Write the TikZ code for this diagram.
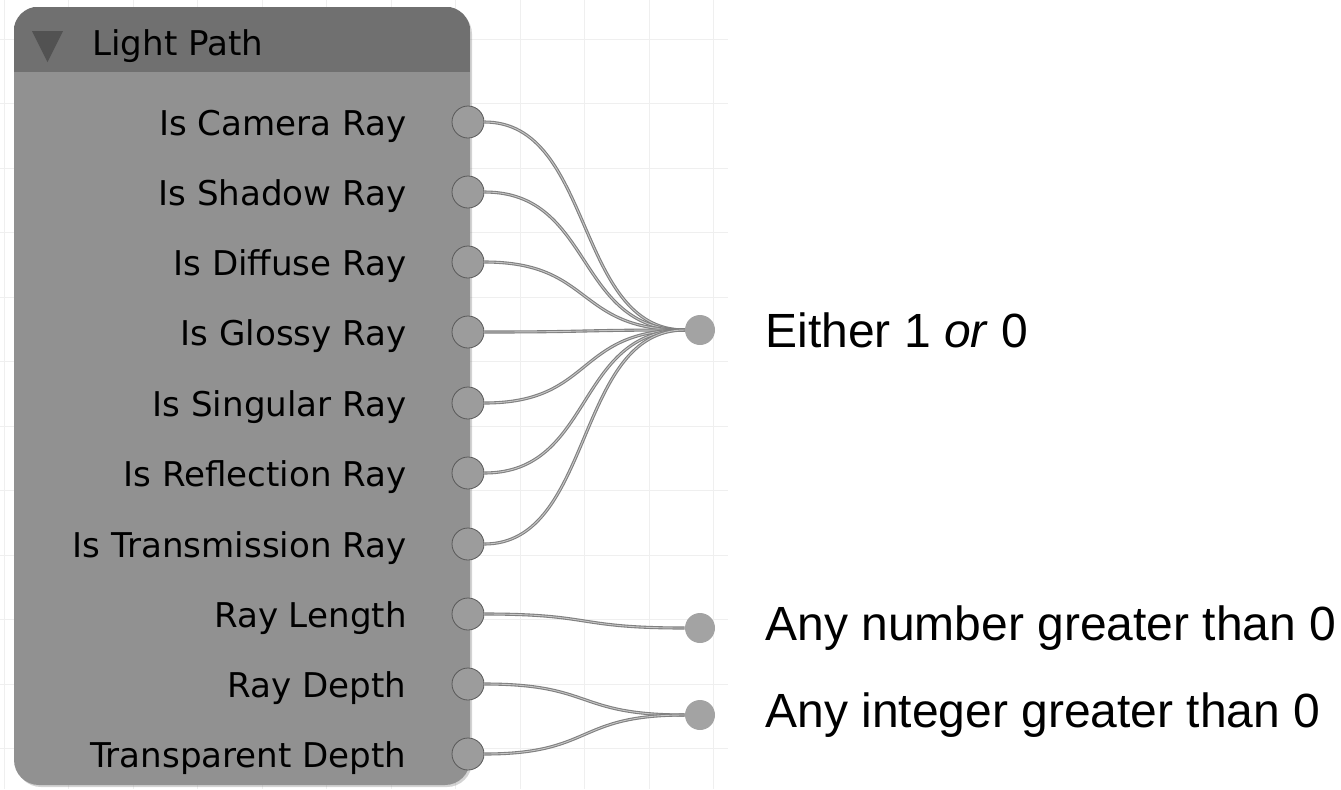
\documentclass[tikz,border=0pt]{standalone}
\usepackage{fontspec}
\setmainfont{Liberation Sans}
\newfontfamily\blenderfont{DejaVu Sans}
\usetikzlibrary{shadows}
\definecolor{headgray}{HTML}{707070}
\definecolor{bodygray}{HTML}{919191}
\definecolor{socketgray}{HTML}{9C9C9C}
\definecolor{dotgray}{HTML}{A3A3A3}
\definecolor{gridgray}{HTML}{EFEFEF}
\tikzstyle{gridline}=[draw=gridgray,line width=0.5pt]
\tikzstyle{nodebox}=[rectangle,rounded corners=12.5pt,fill=bodygray,minimum width=228pt,minimum height=389pt,inner sep=0pt,drop shadow={shadow xshift=1pt,shadow yshift=-1pt,opacity=0.35}]
\tikzstyle{socket}=[circle,fill=socketgray,draw=black!65,line width=0.4pt,minimum size=16pt,inner sep=0pt]
\tikzstyle{target}=[circle,fill=dotgray,minimum size=15pt,inner sep=0pt]
\tikzstyle{noodle}=[draw=black!50,line width=0.55pt,double=black!22,double distance=0.45pt]
\tikzstyle{sockettext}=[anchor=base east,inner sep=0pt,font=\blenderfont\fontsize{17.05}{20}\selectfont]
\tikzstyle{outtext}=[anchor=west,inner sep=0pt,font=\fontsize{24}{28}\selectfont]

\begin{document}
\begin{tikzpicture}[x=0.5pt,y=-0.5pt]
    \useasboundingbox (0,0) rectangle (1341,789);

    % grid
    \foreach \gx in {4,68.5,...,714}
        \draw[gridline] (\gx,0) -- (\gx,789);
    \foreach \gy in {39,103.5,...,790}
        \draw[gridline] (0,\gy) -- (728,\gy);

    % the node
    \node[nodebox] (lp) at (242,396) {};
    \begin{scope}
        \clip[rounded corners=12.5pt] (lp.north west) rectangle (lp.south east);
        \fill[headgray] (lp.north west) rectangle (470,72);
    \end{scope}
    \fill[black!68] (32,31) -- (63,31) -- (47.5,62) -- cycle;
    \node[anchor=base west,inner sep=0pt,font=\blenderfont\fontsize{17.05}{20}\selectfont] (title) at (92,55) {Light Path};

    \foreach \y/\name/\txt in {122/cam/Is Camera Ray, 192/shd/Is Shadow Ray, 262/dif/Is Diffuse Ray,
            332/glo/Is Glossy Ray, 403/sng/Is Singular Ray, 473/rfl/Is Reflection Ray,
            544/trn/Is Transmission Ray, 614/len/Ray Length, 684/dep/Ray Depth, 754/tdp/Transparent Depth}
    {
        \node[socket] (\name) at (468,\y) {};
        \node[sockettext] (\name-txt) at (407,\y+13) {\txt};
    }

    \node[target] (either) at (700,330) {};
    \node[target] (anynum) at (700,628) {};
    \node[target] (anyint) at (700,715) {};

    \foreach \source in {cam,shd,dif,glo,sng,rfl,trn}
        \draw[noodle] (\source.east) .. controls +(110,0) and +(-110,0) .. (either.west);
    \draw[noodle] (len.east) .. controls +(110,0) and +(-110,0) .. (anynum.west);
    \foreach \source in {dep,tdp}
        \draw[noodle] (\source.east) .. controls +(110,0) and +(-110,0) .. (anyint.west);

    \node[outtext] (either-txt) at (765,330) {Either 1 \textit{or} 0};
    \node[outtext] (anynum-txt) at (765,628) {Any number greater than 0};
    \node[outtext] (anyint-txt) at (765,715) {Any integer greater than 0};

\end{tikzpicture}
\end{document}
